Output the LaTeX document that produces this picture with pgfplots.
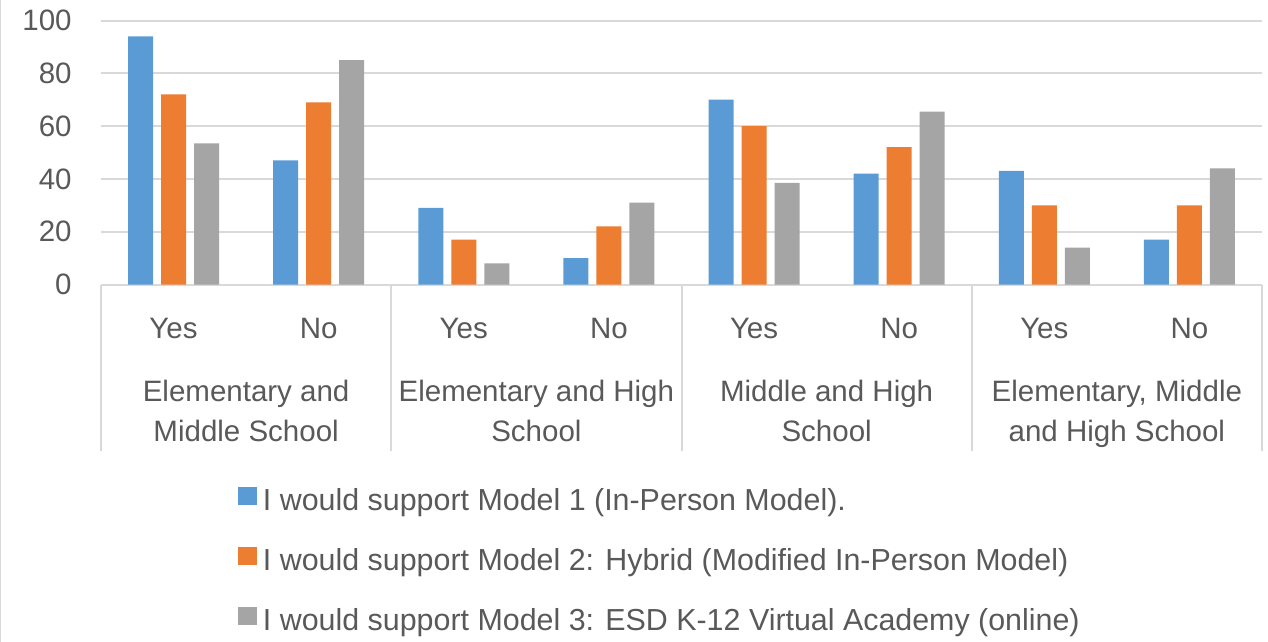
\documentclass[border=0pt]{standalone}
\usepackage{fontspec}
\setmainfont{Liberation Sans}
\usepackage{pgfplots}
\pgfplotsset{compat=1.18}
\definecolor{mblue}{HTML}{5B9BD5}
\definecolor{morange}{HTML}{ED7D31}
\definecolor{mgray}{HTML}{A5A5A5}
\definecolor{gridc}{HTML}{D9D9D9}
\definecolor{txt}{HTML}{595959}
\newcommand\lbl{\fontsize{14.75}{18}\selectfont}
\newcommand\lgd{\fontsize{15.2}{18}\selectfont}

\begin{document}
\begin{tikzpicture}
\begin{axis}[
  at={(0,0)}, anchor=south west,
  scale only axis, width=580.5pt, height=132pt,
  xmin=-0.5, xmax=7.5, ymin=0, ymax=100,
  axis lines*=left,
  y axis line style={draw=none},
  x axis line style={gridc, line width=1pt},
  major tick length=0pt,
  ytick={0,20,...,100},
  ymajorgrids, grid style={gridc, line width=1pt},
  xtick={0,...,7},
  xticklabels={Yes,No,Yes,No,Yes,No,Yes,No},
  tick label style={font=\lbl, text=txt, inner sep=0pt},
  xticklabel style={anchor=base, yshift=-27pt},
  yticklabel style={anchor=east, xshift=-14.5pt},
  /pgf/number format/assume math mode=true,
  ybar=4pt, bar width=12.5pt,
  legend cell align=left,
  legend style={at={(axis description cs:0.118,-0.705)}, anchor=north west,
    draw=none, fill=none, inner sep=0pt, outer sep=0pt, row sep=0pt,
    font=\lgd, text=txt,
    nodes={inner sep=0pt, minimum height=30pt}},
  legend image code/.code={\fill[#1] (0pt,-2pt) rectangle (9.5pt,6.8pt);
    \path (12.5pt,0pt);},
  clip=false,
]
% Model 1
\addplot[fill=mblue, draw=none] coordinates {
  (0,94) (1,47) (2,29) (3,10) (4,70) (5,42) (6,43) (7,17)};
\addlegendentry{I would support Model 1 (In-Person Model).}
% Model 2
\addplot[fill=morange, draw=none] coordinates {
  (0,72) (1,69) (2,17) (3,22) (4,60) (5,52) (6,30) (7,30)};
\addlegendentry{I would support Model 2: Hybrid (Modified In-Person Model)}
% Model 3
\addplot[fill=mgray, draw=none] coordinates {
  (0,53.5) (1,85) (2,8) (3,31) (4,38.5) (5,65.5) (6,14) (7,44)};
\addlegendentry{I would support Model 3: ESD K-12 Virtual Academy (online)}

% group separators
\pgfplotsinvokeforeach{-0.5,1.5,3.5,5.5,7.5}{
  \draw[gridc, line width=1pt] (axis cs:#1,0) -- ++(0pt,-83pt);
}
% group labels
\begin{scope}[every node/.style={font=\lbl, text=txt, anchor=base, inner sep=0pt}]
\node at ([yshift=-58.5pt]axis cs:0.5,0) {Elementary and};
\node at ([yshift=-78.5pt]axis cs:0.5,0) {Middle School};
\node at ([yshift=-58.5pt]axis cs:2.5,0) {Elementary and High};
\node at ([yshift=-78.5pt]axis cs:2.5,0) {School};
\node at ([yshift=-58.5pt]axis cs:4.5,0) {Middle and High};
\node at ([yshift=-78.5pt]axis cs:4.5,0) {School};
\node at ([yshift=-58.5pt]axis cs:6.5,0) {Elementary, Middle};
\node at ([yshift=-78.5pt]axis cs:6.5,0) {and High School};
\end{scope}
\end{axis}
\pgfresetboundingbox
\path (-50.5pt,-178.5pt) rectangle (583.5pt,142pt);
\draw[gridc, line width=0.5pt] (-50.25pt,-178.5pt) -- (-50.25pt,142pt);
\end{tikzpicture}
\end{document}
